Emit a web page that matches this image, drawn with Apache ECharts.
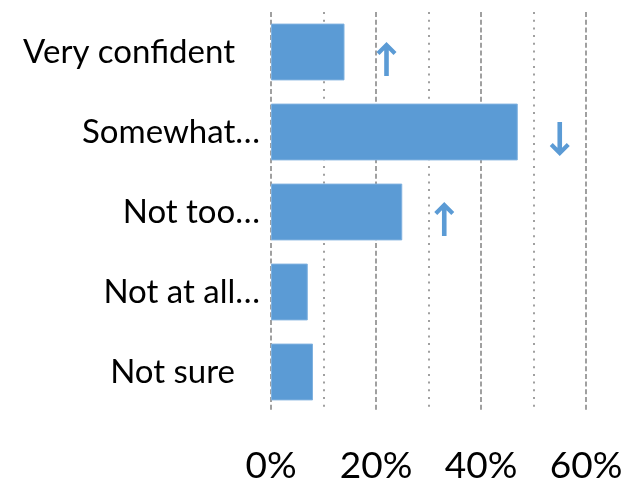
<!DOCTYPE html>
<html>
<head>
<meta charset="utf-8">
<script src="https://cdn.jsdelivr.net/npm/echarts@6/dist/echarts.min.js"></script>
<style>
html,body{margin:0;padding:0;background:#fff;}
#chart{width:635px;height:491px;}
</style>
</head>
<body>
<div id="chart"></div>
<script>
var categories = ['Very confident', 'Somewhat…', 'Not too…', 'Not at all…', 'Not sure'];
var values = [14, 47, 25, 7, 8];
var trends = ['up', 'down', 'up', '', ''];
var xTicks = [0, 20, 40, 60];

var arrowPath = 'path://M10,0 L20,10 L17,13 L12.3,8.3 L12.3,34 L7.7,34 L7.7,8.3 L3,13 L0,10 Z';

var markData = [];
for (var i = 0; i < categories.length; i++) {
  if (trends[i]) {
    markData.push({
      coord: [values[i], categories[i]],
      symbolRotate: trends[i] === 'down' ? 180 : 0
    });
  }
}

var chart = echarts.init(document.getElementById('chart'));
chart.setOption({
  animation: false,
  grid: { left: 271, right: 49, top: 12, bottom: 79, containLabel: false },
  xAxis: {
    type: 'value',
    min: xTicks[0],
    max: xTicks[xTicks.length - 1],
    interval: xTicks[1] - xTicks[0],
    axisLine: { show: false },
    axisTick: { show: false },
    axisLabel: {
      formatter: '{value}%',
      fontFamily: 'Lato',
      fontSize: 37,
      color: '#000',
      margin: 36
    },
    splitLine: {
      show: true,
      lineStyle: { color: '#A0A0A0', width: 2, type: [5, 2.7] }
    },
    minorTick: { show: false, splitNumber: 2 },
    minorSplitLine: {
      show: true,
      lineStyle: { color: '#A0A0A0', width: 2, type: [2, 5.7] }
    }
  },
  yAxis: {
    type: 'category',
    data: categories,
    inverse: true,
    axisLine: { show: false },
    axisTick: { show: false },
    splitLine: { show: false },
    axisLabel: {
      margin: 11,
      formatter: function (v) {
        return v.slice(-1) === '…' ? '{a|' + v + '}' : '{b|' + v + '}';
      },
      rich: {
        a: { fontFamily: 'Lato', fontSize: 33, color: '#000' },
        b: { fontFamily: 'Lato', fontSize: 33, color: '#000', padding: [0, 25, 0, 0] }
      }
    }
  },
  series: [{
    type: 'bar',
    data: values,
    barCategoryGap: '29%',
    itemStyle: { color: '#5B9BD5', borderColor: '#7FB1DF', borderWidth: 1 },
    markPoint: {
      symbol: arrowPath,
      symbolSize: [20, 34],
      symbolOffset: [42, 7],
      itemStyle: { color: '#5B9BD5' },
      label: { show: false },
      data: markData
    }
  }]
});
</script>
</body>
</html>
